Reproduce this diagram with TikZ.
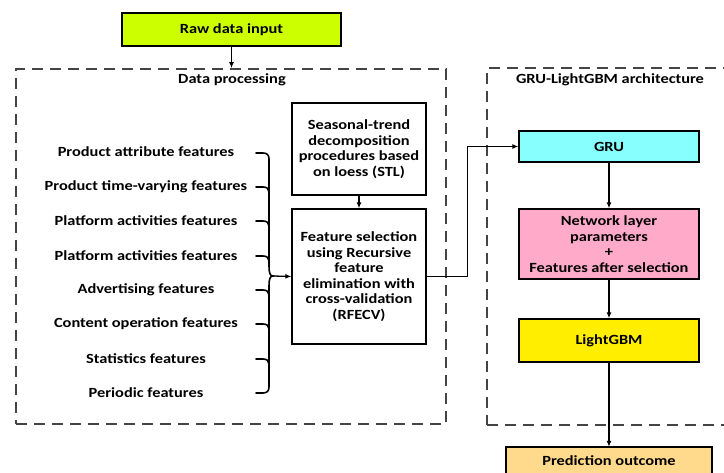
\documentclass[tikz,border=0pt]{standalone}
\usepackage{fontspec}
\setmainfont{Carlito}[FakeStretch=1.17]
\usetikzlibrary{arrows.meta}
\definecolor{rawc}{HTML}{CCFF00}
\definecolor{gruc}{HTML}{88FFFF}
\definecolor{netc}{HTML}{FFAAC8}
\definecolor{lgbc}{HTML}{FFEE00}
\definecolor{predc}{HTML}{FFD98C}
\definecolor{dashc}{HTML}{444444}
\begin{document}
\begin{tikzpicture}[x=1pt,y=-1pt,
  font=\fontsize{14}{15.5}\selectfont\bfseries,
  box/.style={draw, line width=1.3pt, align=center, inner sep=0pt},
  dbox/.style={draw=dashc, line width=1.6pt, dash pattern=on 11pt off 7pt, inner sep=0pt},
  feat/.style={inner sep=1pt},
  arr/.style={-{Latex[length=6pt,width=5pt]}, line width=1.3pt},
  brace/.style={line width=1.6pt, line cap=round}]
\useasboundingbox (0,0) rectangle (724,473);
\clip (0,0) rectangle (724,473);
% dashed regions
\node[dbox, minimum width=430, minimum height=355] (dp) at (231,246.5) {};
\node (dptitle) at (232,80) {Data processing};
\node[dbox, minimum width=260, minimum height=357, anchor=north west] (gl) at (486,67.5) {};
\node (gltitle) at (610,80) {GRU-LightGBM architecture};
% top input
\node[box, fill=rawc, minimum width=219, minimum height=33] (raw) at (231.5,29.5) {Raw data input};
\draw[arr] (raw.south) -- (raw.south |- dp.north);
% processing boxes
\node[box, minimum width=134, minimum height=92] (stl) at (359,149)
  {Seasonal-trend\\decomposition\\procedures based\\on loess (STL)};
\node[box, minimum width=134, minimum height=135] (fs) at (359,276.5)
  {Feature selection\\using Recursive\\feature\\elimination with\\cross-validation\\(RFECV)};
\draw[arr] (stl.south) -- (fs.north);
% feature list
\node[feat] (f1) at (146,152) {Product attribute features};
\node[feat] (f2) at (146,187) {Product time-varying features};
\node[feat] (f3) at (146,221) {Platform activities features};
\node[feat] (f4) at (146,256) {Platform activities features};
\node[feat] (f5) at (146,290) {Advertising features};
\node[feat] (f6) at (146,324) {Content operation features};
\node[feat] (f7) at (146,359) {Statistics features};
\node[feat] (f8) at (146,393) {Periodic features};
% brace
\coordinate (tip) at (273,276);
\draw[brace] (256,153) -- (263,153) .. controls (267,153) and (269,155) .. (269,159)
  -- (269,266) .. controls (269,273) and (270,276) .. (tip)
  .. controls (270,276) and (269,279) .. (269,286)
  -- (269,387) .. controls (269,391) and (267,393) .. (263,393) -- (256,393);
\foreach \yy in {187,221,256,290,324,359}{
  \draw[brace] (256,\yy) -- (263,\yy) .. controls (267,\yy) and (269,\yy+2) .. (269,\yy+5);
}
\draw[arr] (tip) -- (fs.west);
% architecture
\node[box, fill=gruc, minimum width=180, minimum height=31] (gru) at (609,146.5) {GRU};
\node[box, fill=netc, minimum width=180, minimum height=70] (net) at (609,244)
  {Network layer\\parameters\\+\\Features after selection};
\node[box, fill=lgbc, minimum width=180, minimum height=43] (lgb) at (609,340.5) {LightGBM};
\draw[line width=1.3pt, fill=predc] (506,447) rectangle (712,495);
\node[minimum width=206, minimum height=28, inner sep=0pt] (pred) at (609,461) {Prediction outcome};
\draw[arr] (fs.east) -- ++(41,0) |- (gru.west);
\draw[arr, line width=1.8pt] (gru.south) -- (net.north);
\draw[arr, line width=1.8pt] (net.south) -- (lgb.north);
\draw[arr, line width=1.8pt] (lgb.south) -- (pred.north);
\end{tikzpicture}
\end{document}
